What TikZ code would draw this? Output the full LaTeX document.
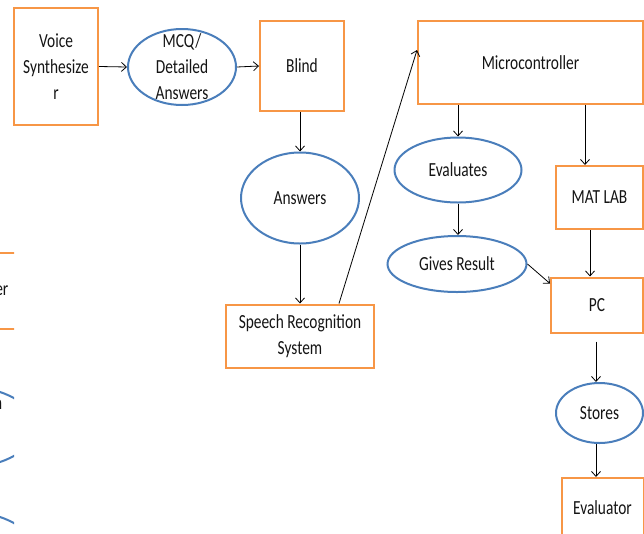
\documentclass[tikz,border=0pt]{standalone}
\usepackage{fontspec}
\setmainfont{Carlito}[FakeStretch=0.77]
\usetikzlibrary{arrows.meta,shapes.geometric,calc}
\definecolor{boxor}{HTML}{F79646}
\definecolor{ellbl}{HTML}{4A7EBB}
\definecolor{txt}{HTML}{141414}
\begin{document}
\begin{tikzpicture}[x=1pt,y=-1pt,
  every node/.style={font=\fontsize{20}{26}\selectfont, text=txt},
  box/.style={draw=boxor, line width=2pt, rectangle, align=center, inner sep=0pt},
  ell/.style={draw=ellbl, line width=2pt, ellipse, align=center, inner sep=0pt},
  lbl/.style={align=center, inner sep=0pt},
  conn/.style={draw=black, line width=0.8pt, -{Straight Barb[length=5pt,width=9pt]}},
]
\useasboundingbox (0,0) rectangle (644,533);
\clip (0,0) rectangle (644,533);

% partial shapes at the left edge
\begin{scope}
\clip (0,0) rectangle (14,533);
\node[box, minimum width=80, minimum height=76] (lbox) at (-10,291) {};
\node[ell, minimum width=136, minimum height=80] (lell1) at (-33,427) {};
\node[ell, minimum width=136, minimum height=80] (lell2) at (-33,552) {};
\end{scope}
\node[lbl, anchor=east] (ltxt1) at (8.5,291) {er};
\node[lbl, anchor=east] (ltxt2) at (2.5,405) {n};

% main nodes
\node[box, minimum width=84, minimum height=117] (voice) at (56,66.5) {Voice\\Synthesize\\r};
\node[ell, minimum width=108, minimum height=76,
      label={[lbl]center:{MCQ/\\Detailed\\Answers}}] (mcq) at (182,67) {};
\node[box, minimum width=84, minimum height=90] (blind) at (302,66) {Blind};
\node[box, minimum width=225, minimum height=83] (micro) at (530.5,62.5) {Microcontroller};
\node[ell, minimum width=118, minimum height=91] (answers) at (300,198) {Answers};
\node[box, minimum width=148, minimum height=63] (speech) at (300,336) {Speech Recognition\\System};
\node[ell, minimum width=127, minimum height=65] (eval) at (458,170) {Evaluates};
\node[ell, minimum width=139, minimum height=56] (gives) at (457,264) {Gives Result};
\node[box, minimum width=87, minimum height=63] (matlab) at (599.5,197.5) {MAT LAB};
\node[box, minimum width=92, minimum height=55] (pc) at (597,305) {PC};
\node[ell, minimum width=87, minimum height=60] (stores) at (599.5,413) {Stores};
\node[box, minimum width=82, minimum height=60] (evaluator) at (602.5,508) {Evaluator};

% connectors
\draw[conn] (voice.east) -- (mcq.west);
\draw[conn] (mcq.east) -- (blind.west);
\draw[conn] (answers.north |- blind.south) -- (answers.north);
\draw[conn] (answers.south) -- (answers.south |- speech.north);
\draw[conn] ([xshift=39pt]speech.north) -- ([yshift=12.5pt]micro.west);
\draw[conn] (eval.north |- micro.south) -- (eval.north);
\draw[conn] (eval.south) -- (eval.south |- gives.north);
\coordinate (mx) at ($(matlab.north)+(-14.5,0)$);
\draw[conn] (mx |- micro.south) -- (mx);
\coordinate (px) at ($(pc.north)+(-7,0)$);
\draw[conn] (px |- matlab.south) -- (px);
\draw[conn] (gives.east) -- ([yshift=21.5pt]pc.west);
\coordinate (sx) at ($(stores.north)+(-3.5,0)$);
\draw[conn, shorten <=8pt] (sx |- pc.south) -- (sx);
\coordinate (ex) at ($(evaluator.north)+(-6.5,0)$);
\draw[conn] (ex |- stores.south) -- (ex);
\end{tikzpicture}
\end{document}
